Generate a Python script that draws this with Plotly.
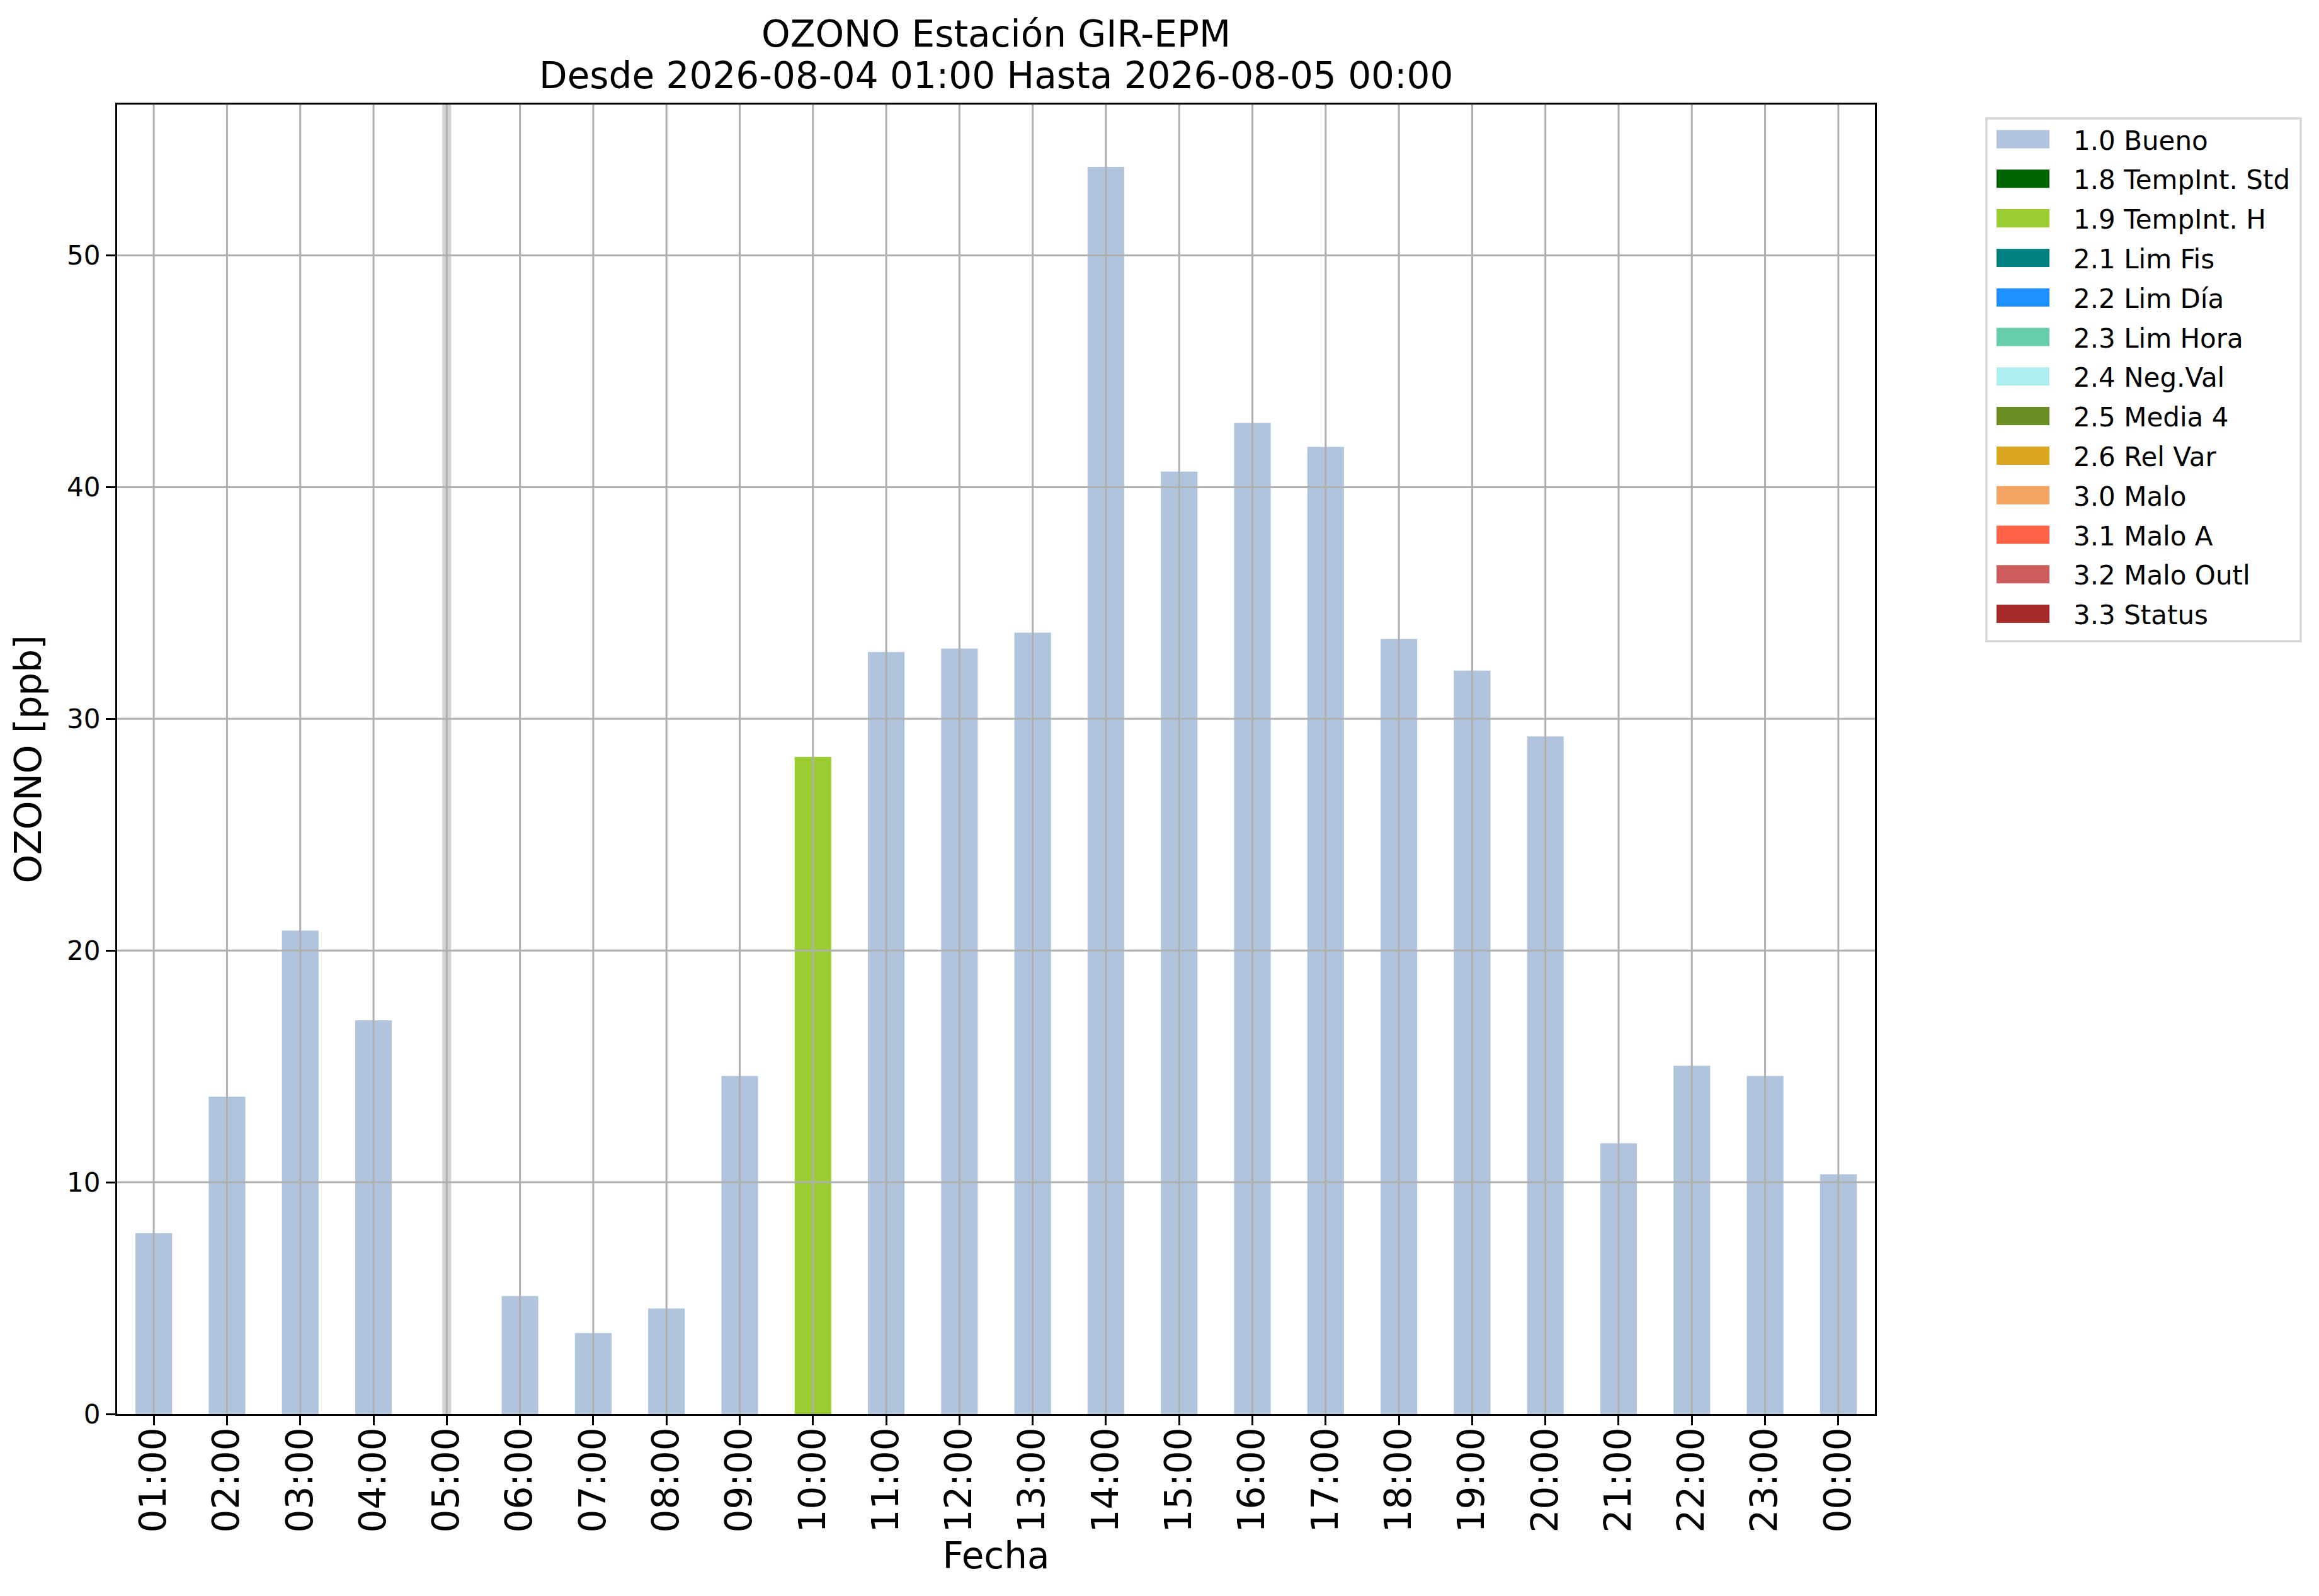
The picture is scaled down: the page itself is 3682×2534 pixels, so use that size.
import plotly.graph_objects as go

# Hourly ozone data, one value per hour (None = no data)
hours = ["01:00", "02:00", "03:00", "04:00", "05:00", "06:00", "07:00", "08:00",
         "09:00", "10:00", "11:00", "12:00", "13:00", "14:00", "15:00", "16:00",
         "17:00", "18:00", "19:00", "20:00", "21:00", "22:00", "23:00", "00:00"]
ozono = [7.80, 13.69, 20.86, 16.99, None, 5.09, 3.49, 4.55,
         14.59, 28.36, 32.88, 33.03, 33.72, 53.82, 40.67, 42.77,
         41.74, 33.45, 32.08, 29.24, 11.68, 15.03, 14.59, 10.34]
flags = [1.0, 1.0, 1.0, 1.0, None, 1.0, 1.0, 1.0,
         1.0, 1.9, 1.0, 1.0, 1.0, 1.0, 1.0, 1.0,
         1.0, 1.0, 1.0, 1.0, 1.0, 1.0, 1.0, 1.0]

# Quality flag categories
flag_codes = [1.0, 1.8, 1.9, 2.1, 2.2, 2.3, 2.4, 2.5, 2.6, 3.0, 3.1, 3.2, 3.3]
flag_names = ["1.0 Bueno", "1.8 TempInt. Std", "1.9 TempInt. H", "2.1 Lim Fis",
              "2.2 Lim Día", "2.3 Lim Hora", "2.4 Neg.Val", "2.5 Media 4",
              "2.6 Rel Var", "3.0 Malo", "3.1 Malo A", "3.2 Malo Outl", "3.3 Status"]
flag_colors = ["#B0C4DE", "#006400", "#9ACD32", "#008080", "#1E90FF", "#66CDAA",
               "#AFEEEE", "#6B8E23", "#DAA520", "#F4A460", "#FF6347", "#CD5C5C",
               "#A52A2A"]

y_ticks = [0, 10, 20, 30, 40, 50]

FONT = "DejaVu Sans"
GRID = "#b0b0b0"

# plot area in pixels (matches the matplotlib layout)
W, H = 3682, 2534
PL, PR, PT, PB = 186, 2977, 166, 2245


def px_x(p):
    return (p - PL) / (PR - PL)


def px_y(p):
    return (PB - p) / (PB - PT)


fig = go.Figure()

for code, name, color in zip(flag_codes, flag_names, flag_colors):
    y = [v if f == code else None for v, f in zip(ozono, flags)]
    fig.add_trace(go.Bar(x=hours, y=y, width=0.5, marker=dict(color=color, line=dict(width=0)),
                         name=name, showlegend=False))

# missing hours marked with a light gray band
for h, v in zip(hours, ozono):
    if v is None:
        fig.add_vline(x=h, line=dict(color="#d3d3d3", width=14), layer="above")

# grid drawn on top of the bars
for h in hours:
    fig.add_vline(x=h, line=dict(color=GRID, width=3), layer="above")
for t in y_ticks[1:]:
    fig.add_hline(y=t, line=dict(color=GRID, width=3), layer="above")

# legend box drawn like matplotlib (wide swatches)
fig.add_shape(type="rect", xref="paper", yref="paper",
              x0=px_x(3154), x1=px_x(3653), y0=px_y(188), y1=px_y(1018),
              line=dict(color="#d6d6d6", width=3.5), fillcolor="white", layer="above")
for i, (name, color) in enumerate(zip(flag_names, flag_colors)):
    yc = 221 + i * 62.8
    fig.add_shape(type="rect", xref="paper", yref="paper",
                  x0=px_x(3170), x1=px_x(3254), y0=px_y(yc + 14.5), y1=px_y(yc - 14.5),
                  line=dict(width=0), fillcolor=color, layer="above")
    fig.add_annotation(text=name, xref="paper", yref="paper", x=px_x(3290), y=px_y(yc + 2),
                       xanchor="left", yanchor="middle", showarrow=False,
                       font=dict(family=FONT, size=42, color="black"))

# two-line title
fig.add_annotation(text="OZONO Estación GIR-EPM", xref="paper", yref="paper",
                   x=0.5, y=px_y(54), xanchor="center", yanchor="middle", showarrow=False,
                   font=dict(family=FONT, size=58, color="black"))
fig.add_annotation(text="Desde 2026-08-04 01:00 Hasta 2026-08-05 00:00", xref="paper", yref="paper",
                   x=0.5, y=px_y(120), xanchor="center", yanchor="middle", showarrow=False,
                   font=dict(family=FONT, size=58, color="black"))

ymax = max(v for v in ozono if v is not None) * 1.05

fig.update_layout(
    width=W, height=H, autosize=False,
    margin=dict(l=PL, r=W - PR, t=PT, b=H - PB),
    paper_bgcolor="white", plot_bgcolor="white",
    barmode="overlay", showlegend=False,
    font=dict(family=FONT, color="black"),
)

fig.update_xaxes(
    type="category", categoryorder="array", categoryarray=hours,
    range=[-0.5, len(hours) - 0.5],
    showgrid=False, zeroline=False,
    showline=True, linecolor="black", linewidth=3.3, mirror=True,
    ticks="outside", ticklen=15, tickwidth=3.3, tickcolor="black",
    tickangle=-90, ticklabelstandoff=-20,
    tickfont=dict(family=FONT, size=58, color="black"),
    title=dict(text="Fecha", font=dict(family=FONT, size=58, color="black"), standoff=17),
)
fig.update_yaxes(
    range=[0, ymax], tickvals=y_ticks,
    showgrid=False, zeroline=False,
    showline=True, linecolor="black", linewidth=3.3, mirror=True,
    ticks="outside", ticklen=15, tickwidth=3.3, tickcolor="black",
    tickfont=dict(family=FONT, size=42, color="black"),
    title=dict(text="OZONO [ppb]", font=dict(family=FONT, size=58, color="black"), standoff=22),
)

# remove the default page margin so the figure sits at the window corner
fig.write_html("out.html", config={"displayModeBar": False},
               post_script="document.body.style.margin='0px';")
